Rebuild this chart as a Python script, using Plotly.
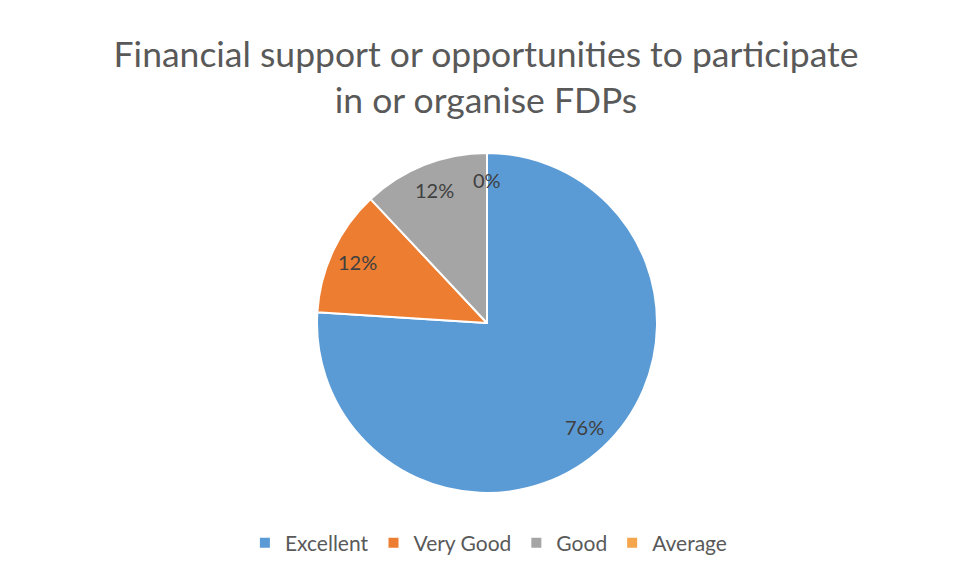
import math
import plotly.graph_objects as go

categories = ["Excellent", "Very Good", "Good", "Average"]
values = [76, 12, 12, 0]
colors = ["#5B9BD5", "#ED7D31", "#A5A5A5", "#F5A54C"]
title_text = "Financial support or opportunities to participate<br>in or organise FDPs"

W, H = 953, 572
cx, cy, r = 487, 323, 170
FONT = "Lato, Carlito, sans-serif"

fig = go.Figure(go.Pie(
    labels=categories,
    values=values,
    sort=False,
    direction="clockwise",
    rotation=0,
    marker=dict(colors=colors, line=dict(color="white", width=2)),
    textinfo="none",
    domain=dict(x=[(cx - r) / W, (cx + r) / W], y=[(H - cy - r) / H, (H - cy + r) / H]),
    showlegend=True,
    hoverinfo="label+percent",
))

# data labels placed along each slice bisector (Excel "best fit" style)
total = sum(values)
cum = 0.0
annotations = []
for v in values:
    frac = v / total
    mid = (cum + frac / 2) * 2 * math.pi
    cum += frac
    d = 0.84 * r
    px = cx + d * math.sin(mid)
    py = cy - d * math.cos(mid)
    annotations.append(dict(
        x=px / W, y=1 - py / H, xref="paper", yref="paper",
        text=f"{round(frac * 100)}%", showarrow=False,
        xanchor="center", yanchor="middle",
        font=dict(family=FONT, size=20, color="#404040"),
    ))

fig.update_layout(
    width=W, height=H,
    margin=dict(l=0, r=0, t=0, b=0),
    paper_bgcolor="white",
    title=dict(text=title_text, x=0.51, xanchor="center", y=1 - 67 / H, yanchor="middle",
               font=dict(family=FONT, size=35.5, color="#595959")),
    legend=dict(orientation="h", x=0.513, xanchor="center", y=1 - 543 / H, yanchor="middle",
                font=dict(family=FONT, size=21, color="#595959"),
                itemwidth=30, traceorder="normal"),
    annotations=annotations,
)

fig.write_html("out.html", config={"displayModeBar": False},
               post_script="document.body.style.margin='0';")
